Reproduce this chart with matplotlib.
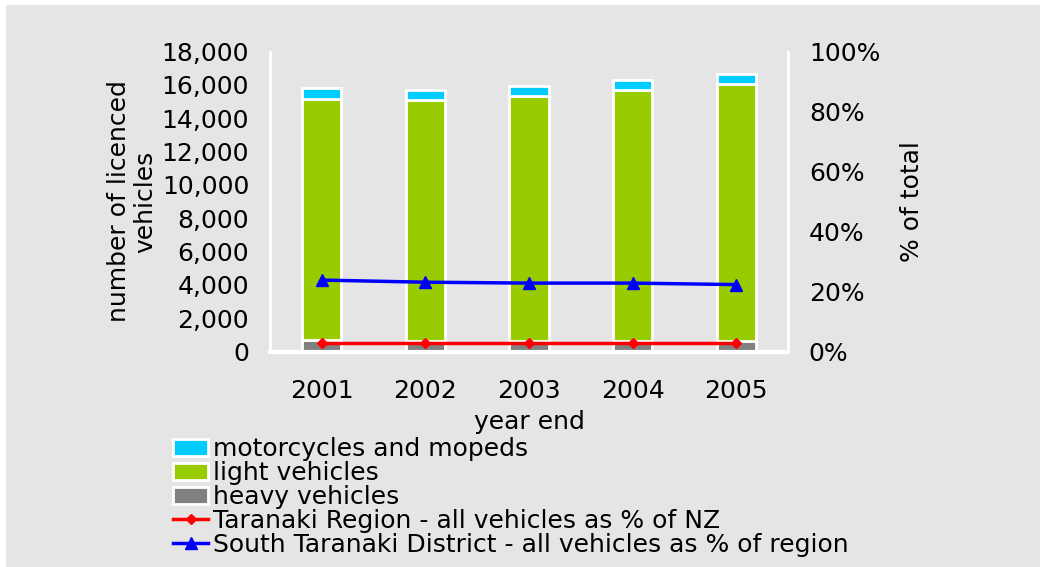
import matplotlib.pyplot as plt
from matplotlib.patches import Rectangle
from matplotlib.ticker import FuncFormatter

# Data
years = ['2001', '2002', '2003', '2004', '2005']
heavy = [700, 620, 630, 630, 650]
light = [14450, 14450, 14680, 15040, 15380]
moto = [640, 640, 640, 640, 640]
region_pct = [2.7, 2.7, 2.7, 2.7, 2.7]
district_pct = [23.8, 23.1, 22.8, 22.8, 22.3]

BG = '#e5e5e5'
FS = 18

fig = plt.figure(figsize=(10.4, 5.67), dpi=100, facecolor='white')
# gray panel, leaving a thin white strip on top and left
fig.patches.append(Rectangle((6 / 1040, 0), 1, 1 - 5 / 567, transform=fig.transFigure,
                             facecolor=BG, edgecolor='none', zorder=-10))

ax = fig.add_axes([270 / 1040, 1 - 351.5 / 567, 518 / 1040, 300 / 567])
ax.set_facecolor(BG)
x = range(len(years))
w = 0.38
bottom2 = [h + l for h, l in zip(heavy, light)]
b1 = ax.bar(x, heavy, w, color='#808080', edgecolor='white', linewidth=2,
            label='heavy vehicles', zorder=2)
b2 = ax.bar(x, light, w, bottom=heavy, color='#99cc00', edgecolor='white', linewidth=2,
            label='light vehicles', zorder=2)
b3 = ax.bar(x, moto, w, bottom=bottom2, color='#00ccff', edgecolor='white', linewidth=2,
            label='motorcycles and mopeds', zorder=2)

ax.set_ylim(0, 18000)
ax.set_xlim(-0.5, len(years) - 0.5)
ax.set_yticks(range(0, 18001, 2000))
ax.yaxis.set_major_formatter(FuncFormatter(lambda v, p: f'{int(v):,}'))
ax.set_xticks(list(x))
ax.set_xticklabels(years)
ax.tick_params(length=0, labelsize=FS, pad=15)
ax.tick_params(axis='x', pad=20)
ax.set_xlabel('year end', fontsize=FS, labelpad=5)
ax.set_ylabel('number of licenced\nvehicles', fontsize=FS, labelpad=3, linespacing=1.15)
for s in ['top', 'right']:
    ax.spines[s].set_visible(False)
ax.spines['left'].set_color('white')
ax.spines['left'].set_linewidth(2)
ax.spines['bottom'].set_color('white')
ax.spines['bottom'].set_linewidth(3)

ax2 = ax.twinx()
l1, = ax2.plot(x, region_pct, color='#ff0000', linewidth=2.5, marker='D', markersize=5,
               label='Taranaki Region - all vehicles as % of NZ', zorder=3)
l2, = ax2.plot(x, district_pct, color='#0000ff', linewidth=2.5, marker='^', markersize=8,
               label='South Taranaki District - all vehicles as % of region', zorder=3)
ax2.set_ylim(0, 100)
ax2.set_yticks(range(0, 101, 20))
ax2.yaxis.set_major_formatter(FuncFormatter(lambda v, p: f'{int(v)}%'))
ax2.tick_params(length=0, labelsize=FS, pad=15)
ax2.set_ylabel('% of total', fontsize=FS, labelpad=14)
for s in ['top', 'left', 'bottom']:
    ax2.spines[s].set_visible(False)
ax2.spines['right'].set_color('white')
ax2.spines['right'].set_linewidth(2)

fig.legend([b3, b2, b1, l1, l2],
           [b3.get_label(), b2.get_label(), b1.get_label(), l1.get_label(), l2.get_label()],
           loc='upper left', bbox_to_anchor=(173 / 1040, 1 - 437 / 567), frameon=False,
           fontsize=FS, labelspacing=0.0, handlelength=1.4, handletextpad=0.2,
           borderpad=0, borderaxespad=0)

fig.savefig('out.png', dpi=100, facecolor=fig.get_facecolor())
